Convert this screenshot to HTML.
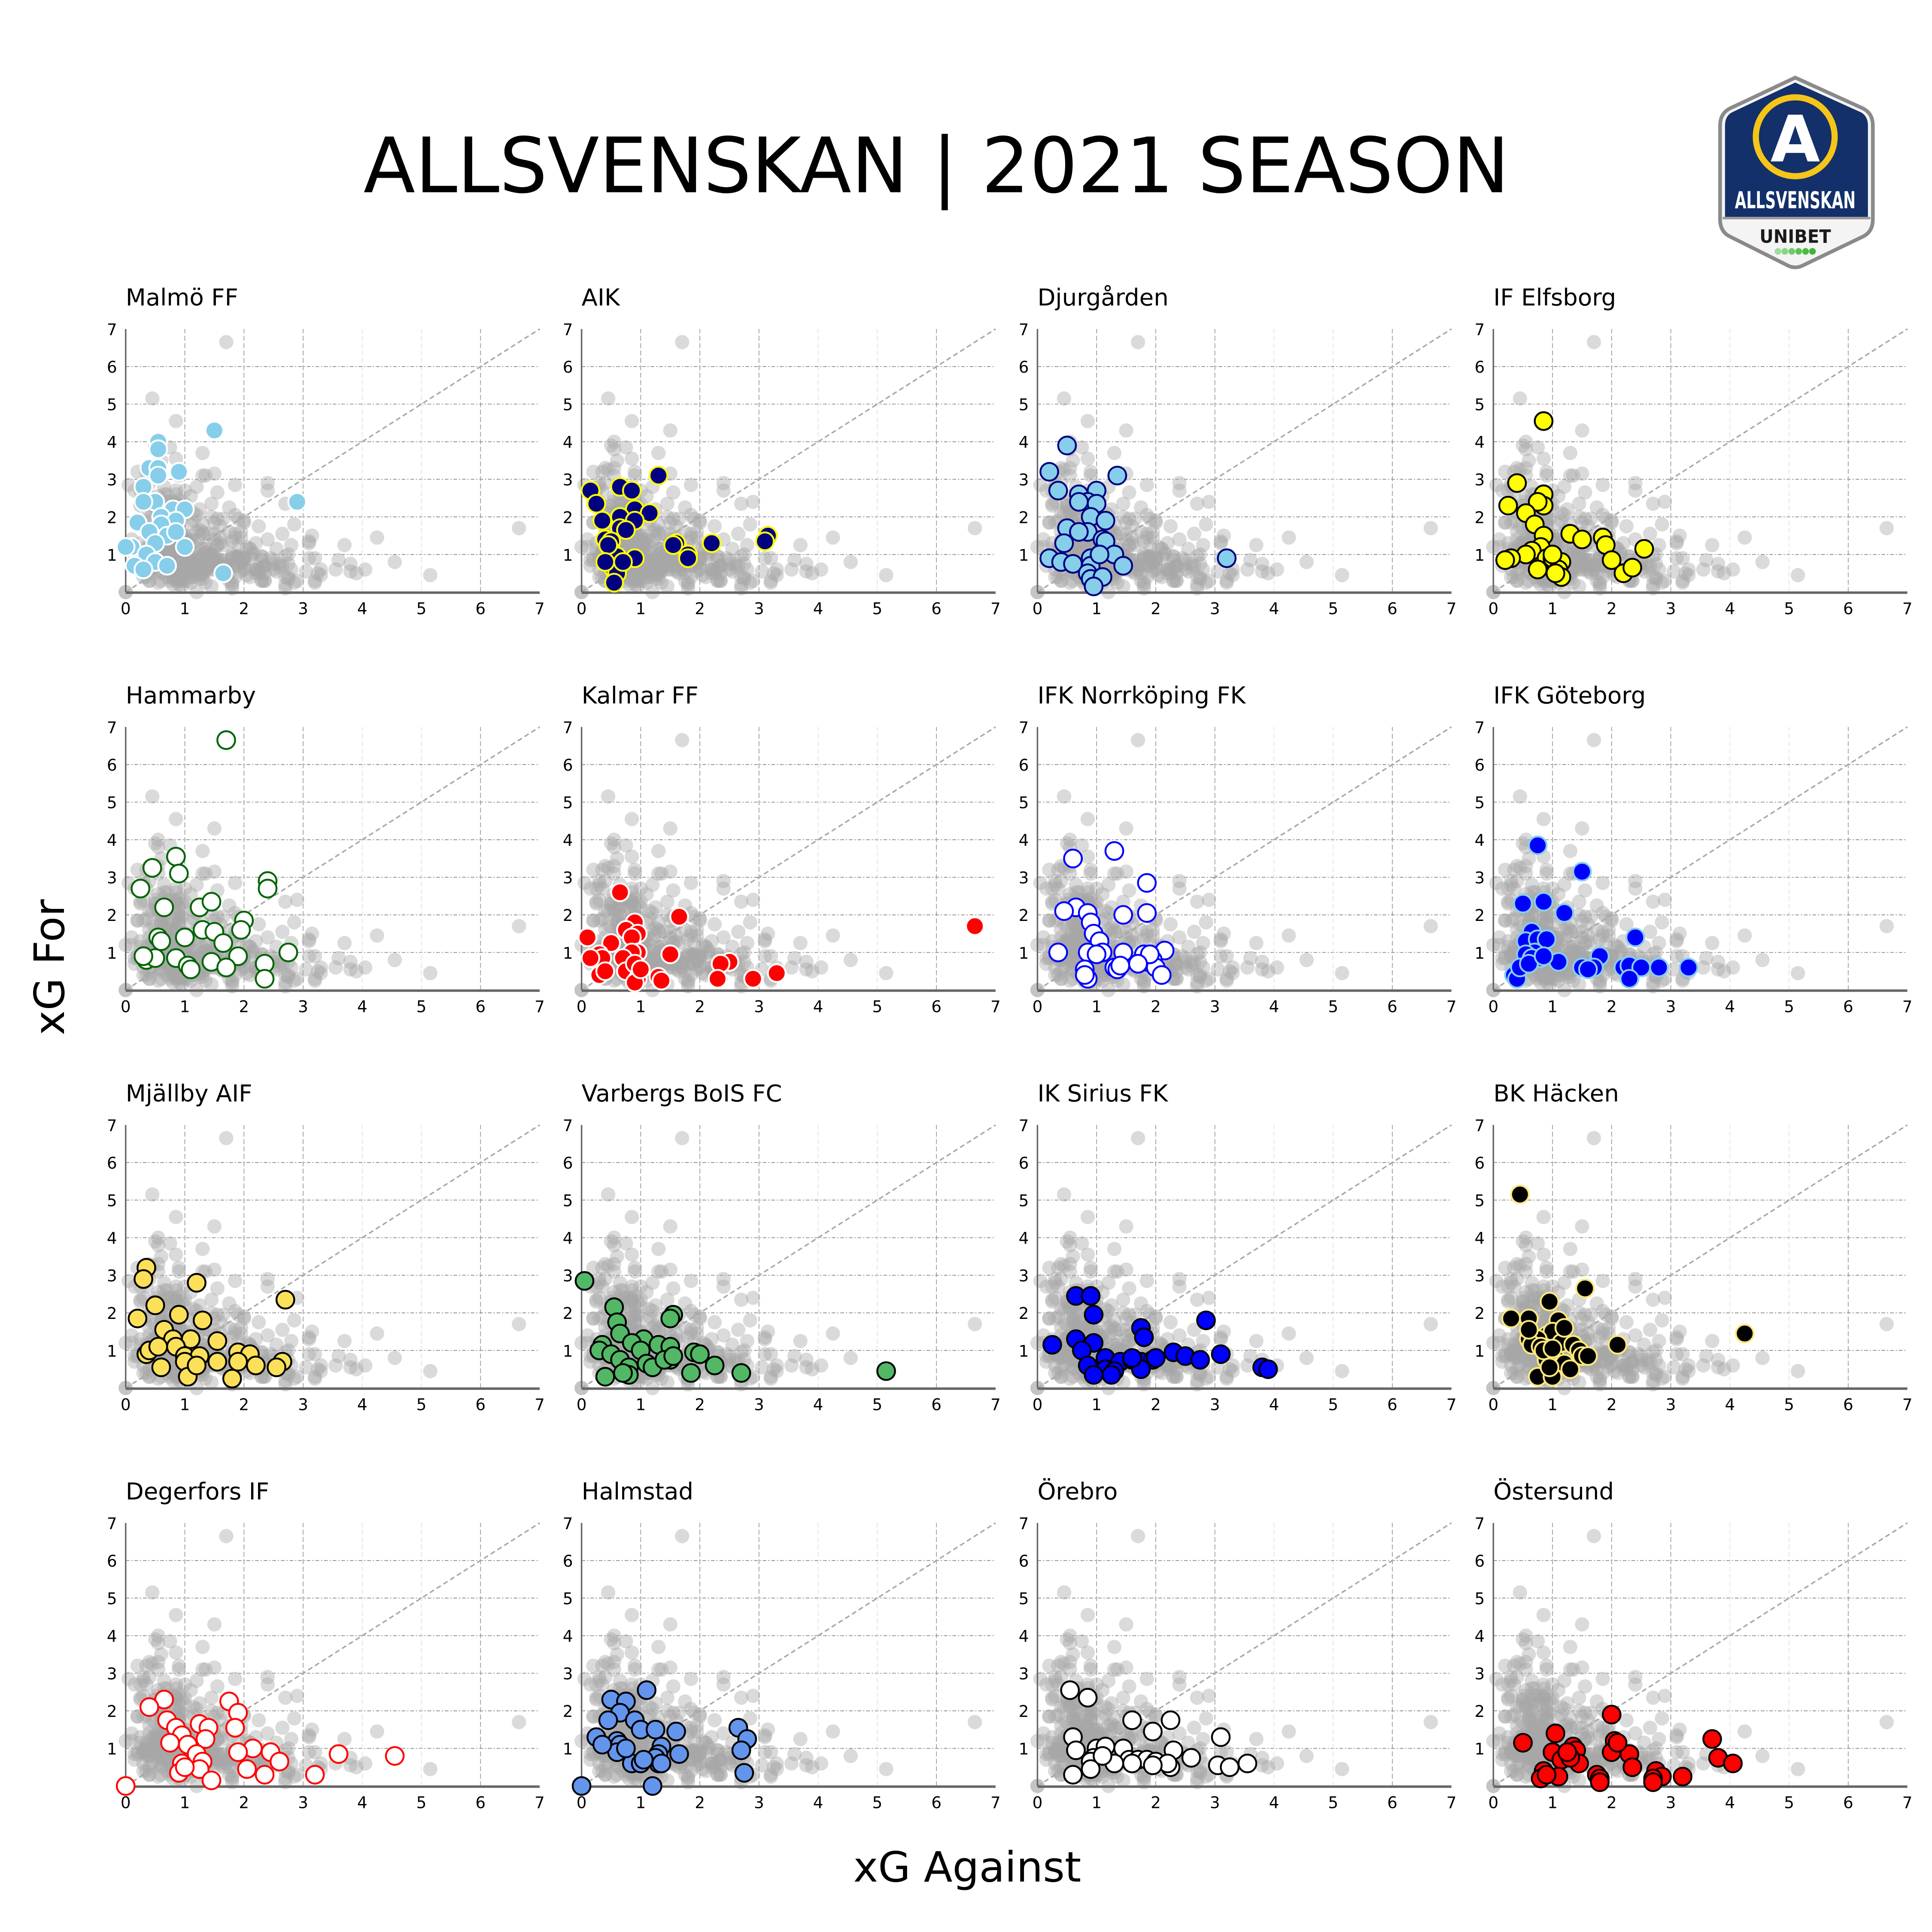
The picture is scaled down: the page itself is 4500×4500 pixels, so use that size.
<!DOCTYPE html>
<html>
<head>
<meta charset="utf-8">
<style>
  html,body{margin:0;padding:0;background:#fff;}
  svg{display:block;}
  text{font-family:"DejaVu Sans","Liberation Sans",sans-serif;}
</style>
</head>
<body>
<svg id="chart" xmlns="http://www.w3.org/2000/svg" width="4500" height="4500" viewBox="0 0 1568 1568">
  <rect x="0" y="0" width="1568" height="1568" fill="#fff"/>
  <text x="760" y="156" font-size="62" text-anchor="middle" textLength="930" lengthAdjust="spacingAndGlyphs" fill="#000">ALLSVENSKAN | 2021 SEASON</text>
  <text x="0" y="0" font-size="34" text-anchor="middle" transform="translate(52,785) rotate(-90)" fill="#000">xG For</text>
  <text x="785" y="1527" font-size="34" text-anchor="middle" fill="#000">xG Against</text>

  <g>
    <path d="M1457,63 L1512,88 Q1520,92 1520,102 L1520,178 Q1520,188 1512,192 L1462,216 Q1457,218 1452,216 L1404,192 Q1396,188 1396,178 L1396,102 Q1396,92 1404,88 Z" fill="#f4f4f4" stroke="#8a8a8a" stroke-width="3"/>
    <path d="M1457,67 L1510,91 Q1516,94 1516,102 L1516,176 L1400,176 L1400,102 Q1400,94 1406,91 Z" fill="#13306b"/>
    <line x1="1398" y1="177" x2="1518" y2="177" stroke="#9a9a9a" stroke-width="2"/>
    <circle cx="1457" cy="111" r="32" fill="#13306b" stroke="#f5c518" stroke-width="5"/>
    <text x="1457" y="131" font-size="52" font-weight="bold" text-anchor="middle" fill="#fff">A</text>
    <text x="1457" y="169" font-size="19" font-weight="bold" text-anchor="middle" textLength="98" lengthAdjust="spacingAndGlyphs" fill="#fff">ALLSVENSKAN</text>
    <text x="1457" y="197" font-size="15" font-weight="bold" text-anchor="middle" textLength="58" lengthAdjust="spacingAndGlyphs" fill="#1a1a1a">UNIBET</text>
    <g>
      <circle cx="1443" cy="204" r="2.7" fill="#9fdc9a"/>
      <circle cx="1448.6" cy="204" r="2.7" fill="#8ad485"/>
      <circle cx="1454.2" cy="204" r="2.7" fill="#72cb6c"/>
      <circle cx="1459.8" cy="204" r="2.7" fill="#5cc256"/>
      <circle cx="1465.4" cy="204" r="2.7" fill="#4bba45"/>
      <circle cx="1471" cy="204" r="2.7" fill="#3fb53a"/>
    </g>
  </g>
  <g id="panels"></g>
</svg>
<script>
// ---- data: [xG Against, xG For] per match ----
const teamNames = ["Malmö FF","AIK","Djurgården","IF Elfsborg","Hammarby","Kalmar FF","IFK Norrköping FK","IFK Göteborg","Mjällby AIF","Varbergs BoIS FC","IK Sirius FK","BK Häcken","Degerfors IF","Halmstad","Örebro","Östersund"];
const teamFill = ["#87ceeb","#000080","#87ceeb","#ffff00","#ffffff","#ff0000","#ffffff","#0000ff","#fde05a","#52b866","#0000ff","#000000","#ffffff","#6495ed","#ffffff","#ff0000"];
const teamEdge = ["#ffffff","#ffff00","#000080","#000000","#006400","#ffffff","#0000ff","#87ceeb","#000000","#000000","#000000","#fde87a","#ff0000","#000000","#000000","#000000"];
const malmo = [[1.5,4.3],[0.55,4.0],[0.55,3.8],[0.4,3.3],[0.55,3.3],[0.9,3.2],[0.3,2.8],[0.55,3.1],[0.5,2.4],[0.3,2.4],[0.8,2.2],[1.0,2.2],[0.6,2.0],[0.85,1.9],[2.9,2.4],[0.2,1.85],[0.6,1.8],[0.4,1.6],[0.7,1.5],[0.5,1.3],[1.0,1.2],[0.1,1.2],[0.35,1.0],[0.15,0.7],[0.5,0.8],[0.7,0.7],[1.65,0.5],[0.0,1.2],[0.3,0.6],[0.85,1.6]];
const aik = [[1.3,3.1],[0.15,2.7],[0.65,2.8],[0.85,2.7],[0.25,2.35],[0.9,2.2],[1.15,2.1],[0.65,2.0],[0.9,1.9],[0.35,1.9],[0.65,1.7],[0.4,1.4],[0.5,1.35],[1.6,1.3],[2.2,1.3],[3.15,1.5],[3.1,1.35],[0.5,1.1],[0.6,0.95],[0.9,0.9],[1.8,1.0],[1.8,0.9],[0.55,0.6],[0.6,0.5],[0.55,0.25],[0.45,1.25],[0.75,1.65],[0.7,0.8],[1.55,1.25],[0.4,0.8]];
const djurgarden = [[0.5,3.9],[0.2,3.2],[1.35,3.1],[0.35,2.7],[0.7,2.6],[1.0,2.7],[0.85,2.4],[0.7,2.4],[1.0,2.35],[0.9,2.0],[1.15,1.9],[0.5,1.7],[0.85,1.6],[0.7,1.6],[1.1,1.4],[0.45,1.3],[1.15,1.35],[1.3,1.0],[0.9,0.9],[0.2,0.9],[1.45,0.7],[0.4,0.8],[0.6,0.75],[0.9,0.7],[0.85,0.5],[0.9,0.35],[1.1,0.4],[3.2,0.9],[0.95,0.15],[1.05,1.0]];
const elfsborg = [[0.85,4.55],[0.4,2.9],[0.85,2.6],[0.85,2.3],[0.75,2.4],[0.25,2.3],[0.55,2.1],[0.7,1.8],[0.85,1.5],[1.3,1.55],[1.5,1.4],[1.85,1.45],[1.9,1.25],[0.8,1.2],[0.65,1.1],[0.55,1.0],[0.3,0.9],[0.2,0.85],[0.9,0.9],[1.0,0.9],[2.0,0.85],[1.15,0.8],[1.1,0.6],[1.15,0.4],[2.2,0.5],[2.35,0.65],[2.55,1.15],[0.75,0.6],[1.0,1.0],[1.05,0.5]];
const hammarby = [[1.7,6.65],[0.85,3.55],[0.45,3.25],[0.9,3.1],[2.4,2.9],[2.4,2.7],[0.25,2.7],[0.65,2.2],[1.25,2.2],[1.45,2.35],[2.0,1.85],[1.95,1.6],[1.3,1.6],[1.5,1.55],[0.55,1.4],[1.0,1.4],[1.65,1.25],[0.6,1.3],[2.75,1.0],[1.9,0.9],[0.35,0.8],[0.5,0.85],[0.85,0.85],[1.05,0.65],[1.45,0.75],[1.7,0.6],[2.35,0.7],[2.35,0.3],[0.3,0.9],[1.1,0.55]];
const kalmar = [[0.65,2.6],[1.65,1.95],[0.9,1.8],[0.75,1.6],[0.95,1.5],[0.85,1.4],[0.1,1.4],[0.5,1.25],[0.3,0.95],[0.35,0.85],[0.95,1.0],[0.85,1.0],[1.5,0.95],[0.15,0.85],[0.7,0.85],[2.5,0.75],[2.35,0.7],[0.75,0.5],[0.3,0.4],[1.3,0.35],[0.95,0.3],[0.9,0.2],[2.3,0.3],[2.9,0.3],[3.3,0.45],[6.65,1.7],[1.35,0.25],[0.4,0.5],[0.9,0.7],[1.0,0.55]];
const norrkoping = [[1.3,3.7],[0.6,3.5],[1.85,2.85],[0.65,2.2],[0.45,2.1],[0.85,2.05],[1.45,2.0],[1.85,2.05],[0.9,1.8],[0.95,1.5],[1.05,1.3],[0.35,1.0],[0.85,1.0],[1.1,1.0],[1.45,1.0],[2.15,1.05],[1.8,0.95],[1.85,0.75],[1.95,0.8],[2.0,0.6],[1.3,0.6],[1.35,0.55],[0.8,0.55],[2.1,0.4],[0.85,0.3],[1.0,0.95],[1.9,0.95],[0.8,0.4],[1.7,0.7],[1.4,0.65]];
const goteborg = [[0.75,3.85],[1.5,3.15],[0.85,2.35],[0.5,2.3],[1.2,2.05],[0.65,1.55],[0.55,1.3],[0.75,1.35],[0.9,1.35],[1.1,0.75],[0.7,1.0],[0.55,0.95],[0.8,0.85],[0.65,0.85],[2.4,1.4],[1.8,0.9],[1.5,0.6],[1.7,0.6],[2.2,0.6],[2.3,0.65],[2.5,0.6],[2.8,0.6],[3.3,0.6],[2.3,0.3],[0.35,0.4],[0.4,0.3],[0.45,0.6],[0.6,0.7],[0.85,0.9],[1.6,0.55]];
const mjallby = [[0.35,3.2],[0.3,2.9],[1.2,2.8],[2.7,2.35],[0.5,2.2],[0.2,1.85],[0.9,1.95],[1.3,1.8],[0.65,1.55],[0.8,1.3],[1.1,1.3],[1.55,1.25],[0.85,1.1],[0.35,0.9],[0.4,1.0],[0.55,1.1],[1.0,0.85],[1.25,0.85],[1.0,0.7],[1.55,0.7],[1.9,0.95],[2.1,0.9],[2.2,0.6],[1.9,0.7],[2.65,0.7],[2.55,0.55],[0.6,0.55],[1.05,0.3],[1.8,0.25],[1.2,0.6]];
const varberg = [[0.05,2.85],[0.55,2.15],[1.55,1.95],[1.5,1.85],[0.6,1.75],[0.65,1.45],[1.05,1.3],[0.85,1.2],[0.35,1.15],[0.3,1.0],[1.3,1.15],[1.5,1.1],[0.5,0.9],[1.0,1.0],[0.65,0.75],[1.5,0.75],[1.9,0.95],[2.0,0.9],[2.25,0.6],[1.1,0.65],[0.8,0.55],[0.4,0.3],[0.8,0.35],[1.85,0.4],[2.7,0.4],[5.15,0.45],[1.2,0.55],[0.7,0.4],[1.4,0.75],[1.55,0.85]];
const sirius = [[0.65,2.45],[0.9,2.45],[0.95,1.95],[1.75,1.6],[2.85,1.8],[1.8,1.35],[0.25,1.15],[0.65,1.3],[0.95,1.2],[0.75,1.0],[1.15,0.8],[1.4,0.7],[1.6,0.75],[1.75,0.7],[1.95,0.75],[2.3,0.95],[2.5,0.85],[2.75,0.75],[3.1,0.9],[3.8,0.55],[3.9,0.5],[0.95,0.45],[1.15,0.5],[0.85,0.6],[1.3,0.45],[1.75,0.5],[2.0,0.8],[1.25,0.35],[0.95,0.35],[1.6,0.8]];
const hacken = [[0.45,5.15],[1.55,2.65],[0.95,2.3],[0.3,1.85],[0.6,1.85],[1.1,1.8],[0.9,1.4],[1.0,1.5],[0.6,1.3],[0.75,1.3],[0.65,1.15],[0.8,1.1],[1.15,1.2],[1.35,1.15],[1.45,1.0],[1.5,0.85],[2.1,1.15],[4.25,1.45],[1.05,0.8],[0.9,0.75],[1.2,0.65],[1.3,0.5],[0.75,0.3],[1.0,0.3],[1.6,0.85],[0.85,1.0],[1.0,1.05],[0.6,1.55],[1.2,1.6],[0.95,0.55]];
const degerfors = [[0.65,2.3],[0.4,2.1],[1.75,2.25],[1.9,1.95],[0.7,1.75],[1.25,1.65],[1.4,1.55],[0.85,1.55],[1.85,1.55],[0.95,1.35],[0.75,1.15],[1.35,1.25],[1.05,1.1],[2.15,1.0],[1.9,0.9],[2.45,0.9],[2.6,0.65],[3.6,0.85],[4.55,0.8],[1.2,0.85],[1.3,0.65],[1.25,0.45],[0.95,0.6],[0.9,0.35],[2.05,0.45],[2.35,0.3],[3.2,0.3],[1.45,0.15],[0.0,0.0],[1.0,0.5]];
const halmstad = [[1.1,2.55],[0.5,2.3],[0.75,2.25],[0.65,1.95],[0.45,1.75],[0.9,1.75],[1.0,1.5],[1.25,1.5],[1.6,1.45],[2.65,1.55],[2.8,1.25],[0.25,1.3],[0.6,1.2],[0.65,1.1],[1.35,1.05],[1.3,0.85],[1.65,0.85],[2.7,0.95],[0.85,0.6],[1.0,0.6],[1.3,0.6],[2.75,0.35],[0.0,0.0],[1.2,0.0],[0.6,0.9],[0.75,1.0],[1.25,0.75],[1.35,0.6],[0.35,1.1],[1.05,0.7]];
const orebro = [[0.55,2.55],[0.85,2.35],[1.6,1.75],[2.25,1.75],[1.95,1.45],[0.6,1.3],[3.1,1.3],[1.0,1.0],[1.15,1.05],[1.45,1.0],[0.65,0.95],[2.3,0.95],[1.55,0.7],[1.7,0.7],[1.85,0.7],[2.0,0.65],[2.6,0.75],[0.95,0.75],[0.9,0.65],[3.05,0.55],[3.25,0.5],[3.55,0.6],[1.3,0.6],[2.25,0.5],[0.6,0.3],[0.9,0.45],[1.1,0.8],[2.2,0.6],[1.6,0.6],[1.95,0.55]];
const ostersund = [[2.0,1.9],[0.5,1.15],[1.05,1.4],[3.7,1.25],[1.35,1.05],[1.4,0.95],[2.05,1.2],[2.0,0.9],[2.3,0.85],[1.0,0.9],[1.15,0.7],[1.45,0.6],[3.8,0.75],[4.05,0.6],[2.35,0.5],[0.85,0.4],[1.75,0.3],[1.8,0.2],[2.75,0.4],[2.85,0.25],[3.2,0.25],[2.7,0.2],[0.8,0.2],[1.1,0.25],[0.9,0.3],[1.3,0.75],[2.1,1.15],[1.25,0.9],[2.7,0.1],[1.8,0.1]];
const teamData = [malmo,aik,djurgarden,elfsborg,hammarby,kalmar,norrkoping,goteborg,mjallby,varberg,sirius,hacken,degerfors,halmstad,orebro,ostersund];
const xTicks = [0,1,2,3,4,5,6,7];
const yTicks = [1,2,3,4,5,6,7];

const NS = "http://www.w3.org/2000/svg";
const root = document.getElementById("panels");
const colX0 = [102,472,842,1212];
const rowY0 = [480.5,803.5,1126.5,1449.5];
const UX = 48, UY = 30.5, MAXV = 7;
function mk(tag, attrs, parent){
  const e = document.createElementNS(NS, tag);
  for (const k in attrs) e.setAttribute(k, attrs[k]);
  parent.appendChild(e);
  return e;
}
function slug(s){return s.toLowerCase().normalize("NFD").replace(/[\u0300-\u036f]/g,"").replace(/[^a-z0-9]+/g,"-").replace(/^-|-$/g,"");}

teamNames.forEach((name, ti) => {
  const ox = colX0[ti % 4], oy = rowY0[Math.floor(ti / 4)];
  const sx = v => ox + v * UX;
  const sy = v => oy - v * UY;
  const g = mk("g", {}, root);
  
  

  const title = mk("text", {x: ox, y: sy(7) - 19, "font-size": 19, fill: "#000"}, g);
  title.textContent = name;
  
  

  for (let v = 1; v <= 6; v++) {
    const h = mk("line", {x1: sx(0), x2: sx(MAXV), y1: sy(v), y2: sy(v), stroke: "#888", "stroke-width": 0.6, "stroke-dasharray": "3,1.5,1,1.5"}, g);
    
    
    const vl = mk("line", {x1: sx(v), x2: sx(v), y1: sy(0), y2: sy(MAXV), stroke: (v === 4 || v === 5) ? "#e2e2e2" : "#999", "stroke-width": 0.6, "stroke-dasharray": "4,2"}, g);
    
    
  }

  const bg = mk("g", {fill: "#a8a8a8", "fill-opacity": 0.42}, g);
  
  
  teamData.forEach(arr => arr.forEach(p => {
    const c = mk("circle", {cx: sx(p[0]), cy: sy(p[1]), r: 5.8}, bg);
    
    
  }));

  const d = mk("line", {x1: sx(0), y1: sy(0), x2: sx(MAXV), y2: sy(MAXV), stroke: "#a8a8a8", "stroke-width": 1.2, "stroke-dasharray": "4,2.5"}, g);
  
  

  const ya = mk("line", {x1: ox, x2: ox, y1: sy(MAXV), y2: sy(0), stroke: "#666", "stroke-width": 1.2}, g);
  
  
  const xa = mk("line", {x1: ox, x2: sx(MAXV), y1: sy(0) + 0.5, y2: sy(0) + 0.5, stroke: "#666", "stroke-width": 2}, g);
  
  

  xTicks.forEach(v => {
    const t = mk("text", {x: sx(v), y: sy(0) + 18, "font-size": 13, "text-anchor": "middle", fill: "#000"}, g);
    t.textContent = String(v);
    
    
  });
  yTicks.forEach(v => {
    const t = mk("text", {x: ox - 7, y: sy(v) + 5, "font-size": 13, "text-anchor": "end", fill: "#000"}, g);
    t.textContent = String(v);
    
    
  });

  const tg = mk("g", {}, g);
  
  
  teamData[ti].forEach(p => {
    const c = mk("circle", {cx: sx(p[0]), cy: sy(p[1]), r: 7.2, fill: teamFill[ti], stroke: teamEdge[ti], "stroke-width": 1.5}, tg);
    
    
  });
});
</script>
</body>
</html>
